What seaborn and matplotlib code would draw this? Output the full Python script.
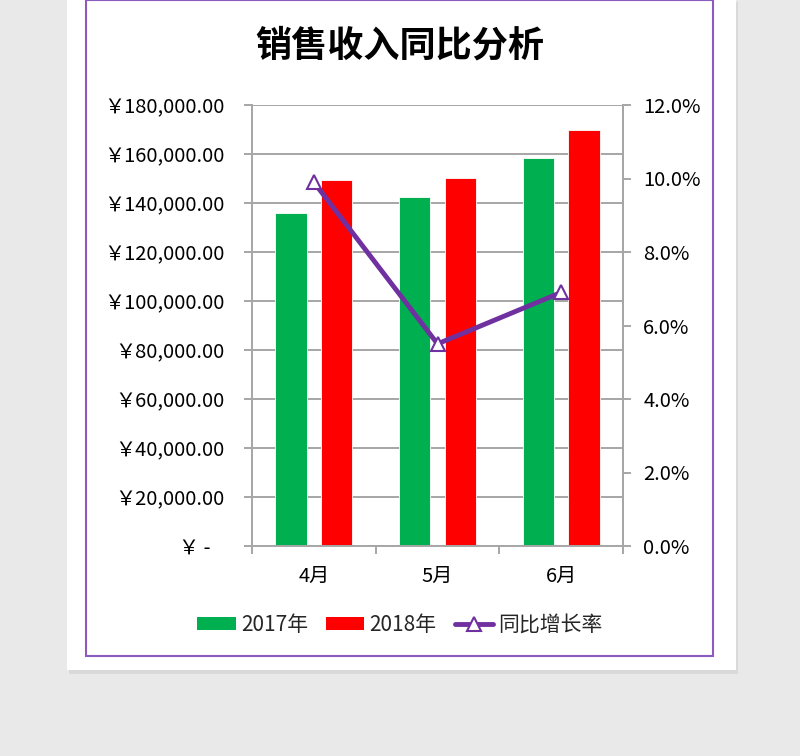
import matplotlib
matplotlib.use("Agg")
import matplotlib.pyplot as plt
import matplotlib.patches as mpatches
from matplotlib.lines import Line2D
from matplotlib.ticker import FuncFormatter, MultipleLocator, FixedLocator
import seaborn as sns
import pandas as pd

months = ["4月", "5月", "6月"]
sales_2017 = [136000, 142400, 158500]
sales_2018 = [149400, 150300, 169700]
growth = [0.099, 0.055, 0.069]
years = ["2017年", "2018年"]
title = "销售收入同比分析"
rate_label = "同比增长率"

GREEN = "#00B050"
RED = "#FF0000"
PURPLE = "#7030A0"
GRID = "#A6A6A6"
FS = 14.5

sns.set_theme(style="white")
plt.rcParams["font.family"] = ["Noto Sans CJK SC", "DejaVu Sans"]

df = pd.DataFrame({
    "month": months * 2,
    "value": sales_2017 + sales_2018,
    "year": [years[0]] * 3 + [years[1]] * 3,
})

fig = plt.figure(figsize=(8, 7.56), dpi=100, facecolor="#E9E9E9")
# white page with shadow
fig.patches.append(mpatches.Rectangle((67/800 + 0.003, (756-672)/756 - 0.003), 669/800, 672/756,
                                      transform=fig.transFigure, facecolor="#D9D9D9", edgecolor="none", zorder=-3))
fig.patches.append(mpatches.Rectangle((67/800, (756-670)/756), 669/800, 670/756 + 0.01,
                                      transform=fig.transFigure, facecolor="white", edgecolor="none", zorder=-2))
fig.patches.append(mpatches.Rectangle((86/800, (756-656)/756), 627/800, 656/756,
                                      transform=fig.transFigure, facecolor="none", edgecolor="#8A5CC0",
                                      linewidth=1.5, zorder=-1))

ax = fig.add_axes([252/800, (756-546)/756, (623-252)/800, (546-105)/756])
ax.set_facecolor("none")
sns.barplot(data=df, x="month", y="value", hue="year", palette=[GREEN, RED], saturation=1,
            width=0.74, gap=0.32, ax=ax, legend=False, edgecolor="white", linewidth=0.6,
            errorbar=None, zorder=2)
ax.set_ylim(0, 180000)
ax.set_xlim(-0.5, 2.5)
ax.yaxis.set_major_locator(MultipleLocator(20000))
ax.yaxis.grid(True, color=GRID, linewidth=1.4, zorder=0)
ax.set_axisbelow(True)

def yen(v, pos):
    if abs(v) < 1e-6:
        return "￥ -   "
    return "￥{:,.2f}".format(v)

ax.yaxis.set_major_formatter(FuncFormatter(yen))
ax.set_xlabel("")
ax.set_ylabel("")
ax.spines["top"].set_visible(False)
for s in ["left", "bottom", "right"]:
    ax.spines[s].set_color(GRID)
    ax.spines[s].set_linewidth(1.4)
ax.tick_params(axis="y", which="major", length=6, width=1.4, color=GRID, labelsize=FS,
               labelcolor="black", pad=14, left=True)
ax.tick_params(axis="x", which="major", length=0, labelsize=FS, labelcolor="black", pad=14)
ax.xaxis.set_minor_locator(FixedLocator([-0.5, 0.5, 1.5, 2.5]))
ax.tick_params(axis="x", which="minor", length=6, width=1.4, color=GRID, bottom=True)

ax2 = ax.twinx()
sns.pointplot(x=months, y=growth, ax=ax2, color=PURPLE, markers="^", linewidth=3.5,
              markersize=10.5, errorbar=None)
for ln in ax2.lines:
    ln.set_markerfacecolor("white")
    ln.set_markeredgecolor(PURPLE)
    ln.set_markeredgewidth(1.5)
    ln.set_zorder(5)
ax2.set_ylim(0, 0.12)
ax2.set_xlim(-0.5, 2.5)
ax2.yaxis.set_major_locator(MultipleLocator(0.02))
ax2.yaxis.set_major_formatter(FuncFormatter(lambda v, p: "{:.1f}%".format(v * 100)))
ax2.tick_params(axis="y", length=5.5, width=1.4, color=GRID, labelsize=FS, labelcolor="black",
                pad=9, right=True)
for s in ["top", "left", "bottom"]:
    ax2.spines[s].set_visible(False)
ax2.spines["right"].set_color(GRID)
ax2.spines["right"].set_linewidth(1.4)
ax2.set_xlabel("")
ax2.set_ylabel("")
ax2.grid(False)

fig.text(0.5, (756-46)/756, title, ha="center", va="center", fontsize=26, fontweight="bold",
         color="black")

handles = [
    mpatches.Patch(facecolor=GREEN, edgecolor="none"),
    mpatches.Patch(facecolor=RED, edgecolor="none"),
    Line2D([], [], color=PURPLE, linewidth=3.5, marker="^", markersize=10,
           markerfacecolor="white", markeredgecolor=PURPLE, markeredgewidth=1.5),
]
fig.legend(handles, years + [rate_label], loc="center", bbox_to_anchor=(0.5, (756-625)/756),
           ncol=3, frameon=False, fontsize=15, handlelength=1.85, handleheight=0.55,
           handletextpad=0.25, columnspacing=0.85)

fig.savefig("out.png", dpi=100, facecolor=fig.get_facecolor())
